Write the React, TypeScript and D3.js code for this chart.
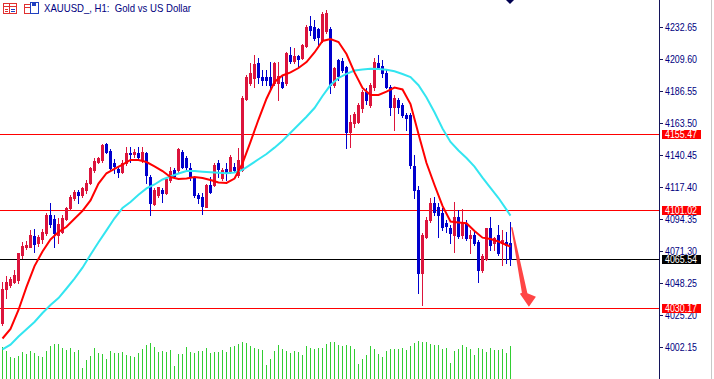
import React from 'react';
import * as d3 from 'd3';

// ---------- data ----------
const openP = [
  4019.5, 4043.6, 4046.7, 4049.1, 4050.3, 4068.4, 4074.2, 4074.4, 4082.1, 4076.8,
  4079.9, 4084.3, 4097.3, 4094.2, 4082.8, 4085.2, 4094.2, 4102.1, 4109.3, 4114.1,
  4111.7, 4115.3, 4120.2, 4129.8, 4135.8, 4137.0, 4148.5, 4143.7, 4134.8, 4130.3,
  4128.5, 4134.6, 4142.2, 4141.3, 4142.2, 4137.0, 4142.2, 4124.9, 4105.2, 4111.7,
  4115.3, 4113.2, 4122.5, 4129.8, 4129.8, 4143.0, 4138.4, 4131.2, 4124.9, 4111.7,
  4110.5, 4103.3, 4118.9, 4118.9, 4134.8, 4124.0, 4130.5, 4128.5, 4132.1, 4126.2,
  4129.8, 4180.8, 4192.4, 4196.2, 4207.2, 4196.9, 4196.7, 4197.1, 4192.4, 4192.6,
  4193.5, 4192.4, 4212.8, 4208.7, 4212.1, 4210.4, 4219.3, 4233.7, 4232.8, 4231.3,
  4223.6, 4230.1, 4231.6, 4191.1, 4209.2, 4208.5, 4204.1, 4157.4, 4163.5, 4164.6,
  4174.5, 4186.1, 4176.7, 4189.9, 4207.0, 4204.8, 4199.6, 4189.9, 4175.5, 4180.3,
  4176.7, 4169.5, 4169.5, 4132.6, 4115.3, 4055.4, 4081.6, 4093.7, 4105.7, 4103.0,
  4098.5, 4091.7, 4087.7, 4082.8, 4095.8, 4082.8, 4091.5, 4080.4, 4082.8, 4078.0,
  4057.6, 4065.3, 4087.7, 4076.8, 4082.8, 4076.8, 4078.0, 4076.8,
];
const highP = [
  4049.1, 4053.2, 4052.7, 4057.6, 4070.1, 4077.8, 4078.5, 4086.4, 4087.2, 4082.8,
  4087.2, 4098.7, 4106.2, 4097.3, 4095.1, 4097.3, 4102.8, 4111.7, 4115.3, 4115.3,
  4117.7, 4122.5, 4132.1, 4138.2, 4139.1, 4148.5, 4149.5, 4144.7, 4137.5, 4132.1,
  4137.0, 4146.6, 4146.6, 4144.7, 4146.6, 4146.6, 4143.0, 4126.2, 4116.5, 4117.7,
  4116.8, 4124.0, 4132.1, 4131.2, 4145.4, 4144.2, 4139.9, 4134.8, 4125.4, 4113.2,
  4113.2, 4119.7, 4124.9, 4134.8, 4137.0, 4131.2, 4134.8, 4140.6, 4134.8, 4145.6,
  4183.2, 4198.3, 4207.0, 4212.8, 4210.6, 4202.0, 4202.0, 4208.0, 4208.0, 4207.7,
  4198.3, 4215.0, 4218.8, 4217.8, 4212.8, 4220.5, 4234.4, 4240.9, 4238.1, 4232.3,
  4243.8, 4245.3, 4233.0, 4204.3, 4209.9, 4210.6, 4204.8, 4169.5, 4171.6, 4178.1,
  4187.5, 4189.0, 4192.6, 4210.4, 4212.8, 4209.2, 4202.0, 4191.1, 4183.9, 4181.5,
  4178.1, 4170.9, 4170.9, 4140.6, 4118.2, 4084.3, 4096.0, 4109.3, 4110.5, 4106.2,
  4102.1, 4093.7, 4090.0, 4106.9, 4100.9, 4101.4, 4093.7, 4086.4, 4085.2, 4079.2,
  4069.1, 4087.9, 4096.0, 4081.6, 4090.0, 4086.4, 4085.0, 4092.4,
];
const lowP = [
  4017.9, 4037.3, 4045.5, 4048.0, 4048.4, 4066.2, 4072.7, 4074.2, 4070.8, 4074.9,
  4077.3, 4082.8, 4088.8, 4074.4, 4077.3, 4084.1, 4093.7, 4100.9, 4108.1, 4106.2,
  4110.5, 4112.9, 4119.7, 4128.5, 4134.8, 4135.8, 4141.8, 4130.3, 4127.4, 4124.9,
  4127.8, 4133.4, 4135.8, 4139.4, 4137.5, 4135.8, 4120.2, 4097.3, 4104.5, 4110.5,
  4106.7, 4112.4, 4121.3, 4124.0, 4128.5, 4131.0, 4129.8, 4122.5, 4110.3, 4105.9,
  4098.0, 4103.0, 4113.2, 4118.2, 4124.7, 4122.5, 4122.5, 4127.4, 4129.0, 4124.9,
  4129.0, 4180.3, 4191.1, 4189.7, 4192.6, 4191.1, 4191.1, 4187.5, 4191.1, 4180.3,
  4189.0, 4191.1, 4207.0, 4207.0, 4204.3, 4209.7, 4218.8, 4227.2, 4223.6, 4218.8,
  4222.2, 4228.7, 4185.4, 4189.9, 4194.7, 4200.5, 4145.4, 4146.4, 4161.0, 4163.5,
  4171.9, 4177.4, 4175.5, 4187.5, 4203.4, 4197.1, 4188.7, 4169.5, 4158.6, 4170.7,
  4168.2, 4158.6, 4131.2, 4109.5, 4040.7, 4032.3, 4080.4, 4092.4, 4097.3, 4081.4,
  4086.4, 4085.2, 4077.1, 4070.8, 4080.4, 4080.4, 4079.2, 4069.6, 4075.6, 4049.1,
  4056.3, 4064.8, 4072.0, 4072.0, 4068.4, 4061.2, 4062.6, 4061.2,
];
const closeP = [
  4043.8, 4049.1, 4050.8, 4053.9, 4069.6, 4074.9, 4075.6, 4082.8, 4076.3, 4081.4,
  4085.2, 4097.3, 4090.8, 4084.1, 4090.6, 4094.9, 4102.1, 4110.5, 4114.1, 4111.7,
  4116.5, 4120.2, 4131.0, 4136.5, 4138.2, 4147.8, 4143.0, 4131.0, 4132.6, 4128.5,
  4135.0, 4142.2, 4141.3, 4143.0, 4139.4, 4143.0, 4126.2, 4105.7, 4115.3, 4117.3,
  4112.9, 4123.3, 4129.3, 4125.4, 4144.7, 4132.1, 4131.9, 4124.7, 4111.7, 4109.3,
  4103.8, 4118.9, 4114.1, 4133.4, 4130.5, 4129.8, 4127.6, 4139.4, 4129.8, 4137.0,
  4182.0, 4196.7, 4200.0, 4206.3, 4197.1, 4194.7, 4194.7, 4191.1, 4206.8, 4197.6,
  4189.9, 4214.0, 4208.7, 4212.1, 4209.9, 4220.0, 4233.2, 4230.8, 4224.8, 4225.6,
  4242.4, 4243.1, 4191.1, 4203.4, 4197.6, 4202.0, 4157.4, 4164.6, 4170.2, 4176.7,
  4186.1, 4180.3, 4191.1, 4208.0, 4204.1, 4199.8, 4189.9, 4175.5, 4181.5, 4175.5,
  4169.5, 4167.1, 4133.4, 4115.3, 4055.4, 4082.8, 4093.7, 4105.7, 4099.7, 4097.3,
  4088.8, 4089.3, 4084.5, 4096.0, 4082.1, 4092.4, 4080.7, 4082.8, 4076.8, 4057.6,
  4067.7, 4087.7, 4075.6, 4080.4, 4069.6, 4079.2, 4075.6, 4065.54,
];
const volumes = [
  3230, 2830, 2200, 2100, 2300, 2700, 2500, 2800, 2600, 2300,
  2200, 2800, 3300, 3500, 3500, 3100, 2900, 3100, 2700, 2900,
  1100, 1900, 2300, 3100, 2600, 2500, 2000, 2800, 2600, 2600,
  2700, 2400, 2300, 2200, 2600, 3000, 3400, 3600, 3200, 2700,
  2800, 2700, 2900, 1300, 2500, 2500, 3200, 2700, 2600, 2800,
  2800, 3100, 2600, 2700, 2700, 2900, 2700, 3200, 3300, 3500,
  3700, 3600, 3300, 3100, 3000, 2900, 1400, 2000, 2800, 3400,
  3000, 2800, 2600, 2800, 2700, 2400, 3300, 3100, 3000, 3100,
  3100, 3500, 3700, 3700, 3400, 3300, 3400, 3300, 3000, 1500,
  2000, 2400, 3300, 3000, 2500, 2200, 2800, 3000, 3000, 3000,
  3100, 2900, 3300, 3600, 3800, 3700, 3700, 3500, 3400, 3400,
  3000, 3100, 1600, 2800, 3000, 3400, 3200, 3000, 2400, 3100,
  3000, 2700, 3100, 2900, 2900, 3000, 2600, 3300,
];
// moving averages, sampled on every second bar plus the last bar
const maFast = [
  4008.1, 4015.0, 4028.7, 4045.3, 4060.4, 4070.9, 4079.6, 4085.0, 4088.8, 4094.6,
  4100.2, 4107.8, 4119.9, 4127.4, 4130.5, 4133.7, 4137.0, 4137.0, 4135.5, 4132.4,
  4129.0, 4124.7, 4123.3, 4123.7, 4124.7, 4124.0, 4122.5, 4120.7, 4120.4, 4123.6,
  4134.5, 4150.0, 4166.2, 4181.2, 4193.3, 4198.0, 4200.2, 4203.4, 4207.7, 4214.6,
  4222.9, 4224.3, 4222.2, 4213.5, 4200.2, 4189.0, 4183.9, 4183.9, 4186.4, 4189.3,
  4187.9, 4177.4, 4155.8, 4134.8, 4118.9, 4103.8, 4092.6, 4091.9, 4091.3, 4085.7,
  4080.9, 4079.9, 4078.1, 4075.6, 4074.4,
];
const maSlow = [
  4000.2, 4003.6, 4009.5, 4014.7, 4020.0, 4026.5, 4032.3, 4037.3, 4044.2, 4051.4,
  4059.2, 4068.6, 4077.6, 4086.2, 4094.9, 4102.3, 4106.7, 4111.9, 4116.5, 4119.3,
  4122.9, 4125.1, 4127.2, 4129.0, 4129.0, 4128.5, 4128.1, 4127.8, 4127.4, 4128.0,
  4129.8, 4133.6, 4137.5, 4141.3, 4145.9, 4150.9, 4156.6, 4162.4, 4168.2, 4174.5,
  4183.2, 4191.1, 4196.2, 4199.2, 4201.6, 4202.3, 4202.8, 4202.7, 4202.1, 4201.0,
  4199.1, 4196.9, 4191.0, 4182.1, 4171.4, 4159.7, 4150.0, 4143.8, 4138.4, 4132.2,
  4124.2, 4116.8, 4109.5, 4101.1, 4096.8,
];
const tickValues = [4232.65, 4209.60, 4186.55, 4163.50, 4140.45, 4117.40, 4094.35, 4071.30, 4048.25, 4025.20, 4002.15];
const levelPrices = [4155.47, 4101.02, 4030.17];
const currentPrice = 4065.54;
const arrowFrom = { bar: 127.3, price: 4088.5 };
const arrowTo = { bar: 131.6, price: 4031.0 };
const title = 'XAUUSD_, H1:  Gold vs US Dollar';

const BULL = '#DC143C';
const BEAR = '#0000CD';
const NAVY = '#000080';
const FONT = '"Liberation Sans", Arial, sans-serif';

export default function App() {
  const n = closeP.length;
  const x = d3.scaleLinear().domain([0, 127]).range([2.5, 510.5]);
  const y = d3.scaleLinear().domain([3978.85, 4252.5]).range([379, 0]);
  const yv = d3.scaleLinear().domain([0, 4400]).range([379, 335]);
  const axisX = 659;

  const maBars = d3.range(0, 128, 2).concat([127]);
  const line = d3.line<[number, number]>().x(d => x(d[0])).y(d => y(d[1]));
  const fastPts: [number, number][] = maFast.map((v, k) => [maBars[k], v]);
  const slowPts: [number, number][] = maSlow.map((v, k) => [maBars[k], v]);

  const ry = (v: number) => Math.round(y(v));

  const ax0 = x(arrowFrom.bar), ay0 = y(arrowFrom.price);
  const ax1 = x(arrowTo.bar), ay1 = y(arrowTo.price);
  const arrowPts = [
    [ax0 - 0.6, ay0], [ax0 + 0.8, ay0],
    [ax1 - 1.5, ay1 - 13.5], [ax1 + 7, ay1 - 10], [ax1, ay1],
    [ax1 - 9, ay1 - 13], [ax1 - 7, ay1 - 14],
  ].map(p => p.join(',')).join(' ');

  const mx = Math.floor(x(127));

  return (
    <svg width={714} height={379} style={{ position: 'absolute', left: 0, top: 0, background: '#fff' }}
      fontFamily={FONT}>
      <rect x={0} y={0} width={714} height={379} fill="#fff" />
      {/* volumes */}
      <g shapeRendering="crispEdges">
        {volumes.map((v, i) => {
          const top = Math.round(yv(v));
          return <rect key={'v' + i} x={Math.floor(x(i))} y={top} width={1} height={379 - top} fill="#32CD32" />;
        })}
      </g>
      {/* horizontal levels */}
      <g shapeRendering="crispEdges">
        {levelPrices.map((p, i) => (
          <line key={'l' + i} x1={0} x2={axisX} y1={ry(p) + 0.5} y2={ry(p) + 0.5} stroke="#ff0000" strokeWidth={1} />
        ))}
        <line x1={0} x2={axisX} y1={ry(currentPrice) + 0.5} y2={ry(currentPrice) + 0.5} stroke="#000" strokeWidth={1} />
      </g>
      {/* candles */}
      <g shapeRendering="crispEdges">
        {closeP.slice(0, n).map((c, i) => {
          const o = openP[i], h = highP[i], l = lowP[i];
          const cx = Math.floor(x(i));
          const col = c >= o ? BULL : BEAR;
          const wTop = ry(Math.max(h, o, c)), wBot = ry(Math.min(l, o, c));
          const bTop = ry(Math.max(o, c)), bBot = ry(Math.min(o, c));
          return (
            <g key={'c' + i}>
              <rect x={cx} y={wTop} width={1} height={wBot - wTop + 1} fill={col} />
              <rect x={cx - 1} y={bTop} width={3} height={Math.max(1, bBot - bTop + 1)} fill={col} />
            </g>
          );
        })}
      </g>
      {/* moving averages */}
      <path d={line(slowPts) || ''} fill="none" stroke="#33E5F0" strokeWidth={2} />
      <path d={line(fastPts) || ''} fill="none" stroke="#FF0000" strokeWidth={2} />
      {/* arrow */}
      <polygon points={arrowPts} fill="#FF3B3B" opacity={0.95} />
      {/* chart shift marker */}
      <polygon points={`${mx - 4},0 ${mx + 4},0 ${mx},4`} fill="#000050" />
      {/* right axis */}
      <rect x={axisX + 1} y={0} width={714 - axisX - 1} height={379} fill="#fff" />
      <line x1={axisX + 0.5} x2={axisX + 0.5} y1={0} y2={379} stroke="#14145a" strokeWidth={1} shapeRendering="crispEdges" />
      <line x1={711.5} x2={711.5} y1={0} y2={379} stroke="#c8c8c8" strokeWidth={1} shapeRendering="crispEdges" />
      {tickValues.map((t, i) => (
        <g key={'t' + i}>
          <line x1={axisX} x2={axisX + 4} y1={ry(t) + 0.5} y2={ry(t) + 0.5} stroke="#14145a" shapeRendering="crispEdges" />
          <text x={665} y={ry(t) + 4} fontSize={10} fill={NAVY} textLength={32} lengthAdjust="spacingAndGlyphs">
            {t.toFixed(2)}
          </text>
        </g>
      ))}
      {levelPrices.map((p, i) => (
        <g key={'pl' + i}>
          <rect x={662} y={ry(p) - 4} width={39} height={9} fill="#ff0000" shapeRendering="crispEdges" />
          <text x={665} y={ry(p) + 4} fontSize={10} fill="#fff" textLength={32} lengthAdjust="spacingAndGlyphs">
            {p.toFixed(2)}
          </text>
        </g>
      ))}
      <g>
        <rect x={662} y={ry(currentPrice) - 4} width={39} height={9} fill="#000" shapeRendering="crispEdges" />
        <text x={665} y={ry(currentPrice) + 4} fontSize={10} fill="#fff" textLength={32} lengthAdjust="spacingAndGlyphs">
          {currentPrice.toFixed(2)}
        </text>
      </g>
      {/* title with icons */}
      <g shapeRendering="crispEdges">
        <rect x={3.5} y={3.5} width={13} height={10} fill="#fff" stroke="#e03030" />
        <line x1={4} x2={16} y1={6.5} y2={6.5} stroke="#e03030" />
        <line x1={9.5} x2={9.5} y1={4} y2={13} stroke="#e03030" />
        <line x1={5} x2={8} y1={9.5} y2={9.5} stroke="#e03030" />
        <line x1={5} x2={8} y1={11.5} y2={11.5} stroke="#e03030" />
        <line x1={11} x2={15} y1={9.5} y2={9.5} stroke="#2040c0" />
        <line x1={11} x2={15} y1={11.5} y2={11.5} stroke="#2040c0" />
        <rect x={24.5} y={4.5} width={6} height={9} fill="#fff" stroke="#e03030" />
        <rect x={30.5} y={2.5} width={8} height={11} fill="#fff" stroke="#2040c0" />
        <rect x={32} y={3} width={4} height={3} fill="#2040c0" />
        <line x1={25} x2={30} y1={7.5} y2={7.5} stroke="#e03030" />
      </g>
      <text x={44} y={12} fontSize={11} fill={NAVY} textLength={147} lengthAdjust="spacingAndGlyphs" xmlSpace="preserve">
        {title}
      </text>
    </svg>
  );
}
